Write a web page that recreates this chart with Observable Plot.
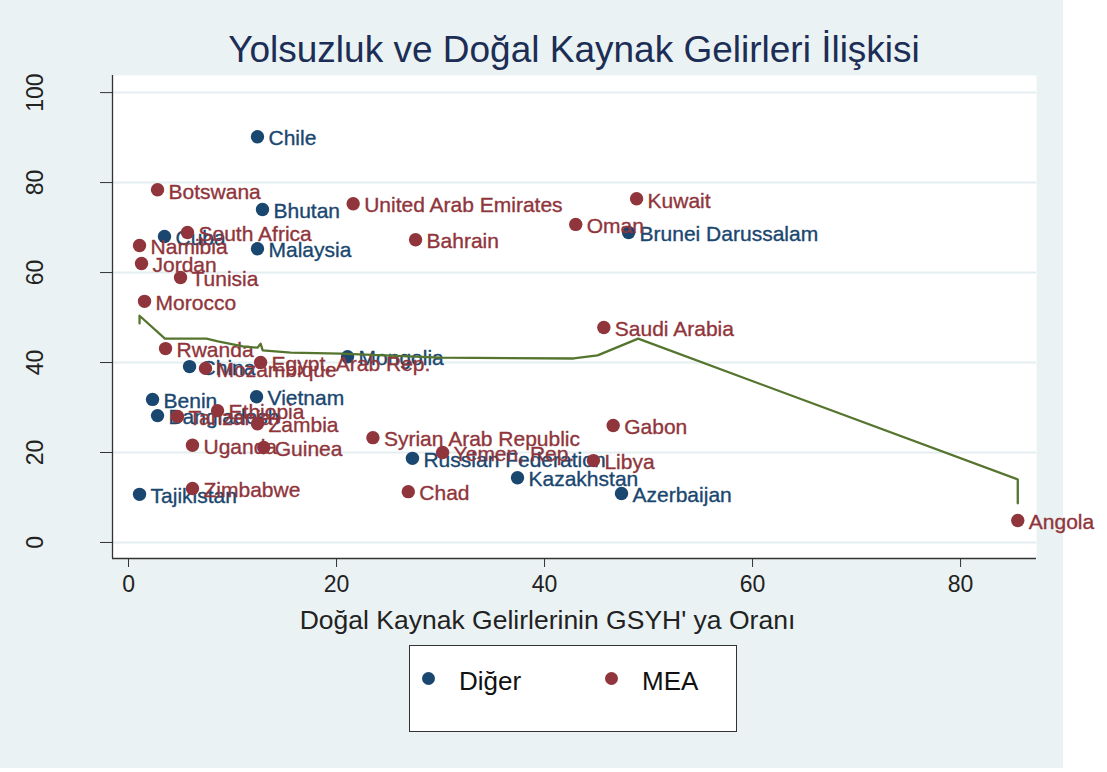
<!DOCTYPE html>
<html>
<head>
<meta charset="utf-8">
<script src="https://cdn.jsdelivr.net/npm/d3@7"></script>
<script src="https://cdn.jsdelivr.net/npm/@observablehq/plot@0.6"></script>
<style>
  body { margin: 0; background: #ffffff; font-family: "Liberation Sans", Arial, sans-serif; }
  #panel { position: relative; width: 1063px; height: 768px; background: #EAF2F3; overflow: visible; }
  #title { position: absolute; left: 112px; width: 924px; top: 28px; text-align: center; font-size: 37px; line-height: 44px; color: #1C2D56; white-space: nowrap; }
  #chart { position: absolute; left: 0; top: 60px; width: 1107px; }
  #chart svg { overflow: visible; max-width: none !important; width: 1107px; height: 580px; }
  #legendBox { position: absolute; left: 409px; top: 645px; width: 326px; height: 85px; background: #fff; border: 1.5px solid #333; }
  .ldot { position: absolute; width: 13px; height: 13px; border-radius: 50%; }
  .ltext { position: absolute; font-size: 26px; line-height: 30px; color: #111; }
</style>
</head>
<body>
<div id="panel">
  <div id="title">Yolsuzluk ve Doğal Kaynak Gelirleri İlişkisi</div>
  <div id="chart"></div>
  <div id="legendBox"></div>
  <div class="ldot" style="left:422px;top:672px;background:#1A476F"></div>
  <div class="ltext" style="left:459px;top:666px">Diğer</div>
  <div class="ldot" style="left:605px;top:672px;background:#90353B"></div>
  <div class="ltext" style="left:642px;top:666px">MEA</div>
</div>
<script>
// ---- data ----
const digerNames = ["Chile","Bhutan","Cuba","Malaysia","Brunei Darussalam","Mongolia","China","Benin","Bangladesh","Vietnam","Russian Federation","Kazakhstan","Azerbaijan","Tajikistan"];
const digerX = [12.4,12.88,3.46,12.4,48.08,21.06,5.87,2.31,2.79,12.31,27.3,37.4,47.4,1.06];
const digerY = [90.2,74.0,68.0,65.3,68.9,41.3,39.1,31.8,28.2,32.4,18.7,14.4,10.9,10.7];

const meaNames = ["Botswana","South Africa","Namibia","Jordan","Tunisia","Morocco","United Arab Emirates","Bahrain","Oman","Kuwait","Saudi Arabia","Rwanda","Mozambique","Egypt, Arab Rep.","Ethiopia","Tanzania","Zambia","Uganda","Guinea","Zimbabwe","Syrian Arab Republic","Yemen, Rep.","Chad","Gabon","Libya","Angola"];
const meaX = [2.79,5.67,1.06,1.25,5.0,1.54,21.6,27.6,43.0,48.85,45.7,3.56,7.4,12.7,8.56,4.71,12.4,6.15,13.0,6.15,23.5,30.2,26.9,46.6,44.7,85.5];
const meaY = [78.4,68.9,66.0,62.0,58.9,53.6,75.3,67.3,70.7,76.4,47.8,43.1,38.7,40.0,29.3,28.0,26.4,21.6,21.1,12.0,23.3,20.0,11.3,26.0,18.2,4.9];

const lowessX = [1.06,1.06,3.5,6.2,7.5,8.6,11.0,12.4,12.7,12.9,15.6,20.4,30.0,42.8,45.1,49.0,85.5,85.5];
const lowessY = [48.7,50.4,45.3,45.3,45.3,44.7,43.6,43.3,44.2,42.7,42.2,42.0,41.1,40.9,41.6,45.3,14.0,8.7];

const xTicks = [0,20,40,60,80];
const yTicks = [0,20,40,60,80,100];
const xTitle = "Doğal Kaynak Gelirlerinin GSYH' ya Oranı";

// ---- tables ----
const diger = digerNames.map((n,i)=>({name:n, x:digerX[i], y:digerY[i]}));
const mea = meaNames.map((n,i)=>({name:n, x:meaX[i], y:meaY[i]}));
const lowess = lowessX.map((x,i)=>({x, y:lowessY[i]}));

const NAVY = "#1A476F", MAROON = "#90353B", GREEN = "#55752F";
const xDomain = [-1.54, 87.3];
const yDomain = [-3.56, 103.8];

const labelOpts = (c) => ({x:"x", y:"y", text:"name", fill:c, stroke:c, strokeWidth:0.35, fontSize:21, textAnchor:"start", dx:11, dy:2});

const chart = Plot.plot({
  width: 1107,
  height: 580,
  marginLeft: 112,
  marginRight: 71,
  marginTop: 15,
  marginBottom: 82,
  style: {background: "transparent", fontFamily: "'Liberation Sans', Arial, sans-serif", color: "#222", overflow: "visible", maxWidth: "none"},
  x: {domain: xDomain},
  y: {domain: yDomain},
  marks: [
    Plot.frame({fill: "white", stroke: null}),
    Plot.gridY(yTicks, {stroke: "#E4EDF0", strokeOpacity: 1, strokeWidth: 2}),
    Plot.ruleX([xDomain[0]], {stroke: "#333", strokeWidth: 1.3}),
    Plot.ruleY([yDomain[0]], {stroke: "#333", strokeWidth: 1.3}),
    Plot.axisY(yTicks, {tickSize: 12, tickFormat: () => "", stroke: "#333", label: null}),
    Plot.text(yTicks, {y: d => d, text: d => String(d), frameAnchor: "left", rotate: -90, dx: -77, fontSize: 23, fill: "#222", textAnchor: "middle"}),
    Plot.axisX(xTicks, {tickSize: 9, tickPadding: 8, fontSize: 23, label: null, stroke: "#333", fill: "#222"}),
    Plot.text([xTitle], {text: d => d, frameAnchor: "bottom", dy: 70, dx: -27, fontSize: 26.5, fill: "#222"}),
    Plot.dot(diger, {x: "x", y: "y", r: 6.7, fill: NAVY}),
    Plot.text(diger, labelOpts(NAVY)),
    Plot.dot(mea, {x: "x", y: "y", r: 6.7, fill: MAROON}),
    Plot.text(mea, labelOpts(MAROON)),
    Plot.line(lowess, {x: "x", y: "y", stroke: GREEN, strokeWidth: 2.3, curve: "linear"})
  ]
});
document.getElementById("chart").appendChild(chart);
</script>
</body>
</html>
